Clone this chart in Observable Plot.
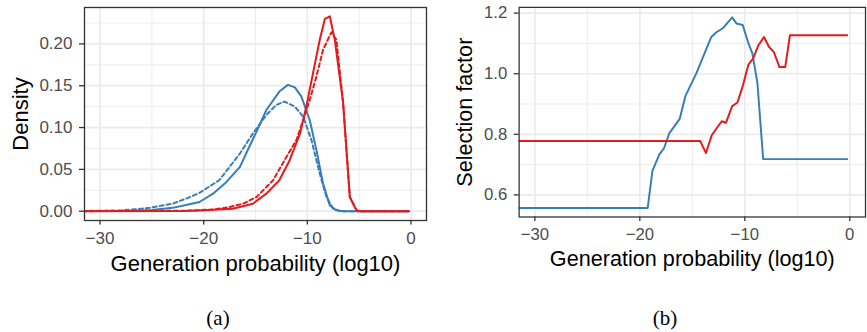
<!DOCTYPE html>
<html>
<head>
<meta charset="utf-8">
<script src="https://cdn.jsdelivr.net/npm/d3@7"></script>
<script src="https://cdn.jsdelivr.net/npm/@observablehq/plot@0.6"></script>
<style>
  html, body { margin: 0; padding: 0; background: #fff; overflow: hidden; }
  #fig { position: relative; width: 867px; height: 332px; overflow: hidden; }
  .panel { position: absolute; top: 0; }
  .cap { position: absolute; font-family: "Liberation Serif", "DejaVu Serif", serif; font-size: 21px; color: #000; transform: translate(-50%, -50%); }
</style>
</head>
<body>
<div id="fig">
  <div id="pa" class="panel" style="left:0px"></div>
  <div id="pb" class="panel" style="left:434px"></div>
  <div class="cap" style="left:218px; top:318px">(a)</div>
  <div class="cap" style="left:665px; top:318px">(b)</div>
</div>
<script>
// ---------- data ----------
const xTicks = [-30, -20, -10, 0];
const xMinor = [-25, -15, -5];
const xLabel = "Generation probability (log10)";

// Panel (a): density curves
const densTicks = [0, 0.05, 0.10, 0.15, 0.20];
const densMinor = [0.025, 0.075, 0.125, 0.175, 0.225];
const blueSolidX = [-33, -27, -25, -23, -21.5, -20.4, -19.1, -17.8, -16.5, -15.6, -14.8, -13.95, -12.7, -11.87, -11.2, -10.57, -9.77, -9.12, -8.48, -7.83, -7.2, -6.5, -0.2];
const blueSolidY = [0, 0.0005, 0.0015, 0.004, 0.008, 0.011, 0.021, 0.035, 0.053, 0.077, 0.098, 0.121, 0.143, 0.151, 0.148, 0.137, 0.109, 0.073, 0.033, 0.007, 0.001, 0, 0];
const blueDashX = [-33, -28, -26, -25.2, -23, -21.5, -20.4, -18.5, -16.5, -15.25, -13.95, -13, -12.2, -11.2, -10.4, -9.6, -8.8, -8.15, -7.5, -6.8, -0.2];
const blueDashY = [0, 0.001, 0.003, 0.004, 0.009, 0.016, 0.022, 0.037, 0.069, 0.093, 0.115, 0.127, 0.131, 0.125, 0.113, 0.085, 0.045, 0.017, 0.003, 0, 0];
const redSolidX = [-33, -22, -20.4, -17.2, -15.25, -13.95, -12.7, -11.7, -10.7, -10.1, -9.45, -8.8, -8.3, -7.83, -7.35, -6.55, -5.9, -5.25, -4.8, -0.2];
const redSolidY = [0, 0.0003, 0.001, 0.003, 0.009, 0.021, 0.037, 0.061, 0.093, 0.125, 0.165, 0.205, 0.230, 0.233, 0.205, 0.13, 0.017, 0.001, 0, 0];
const redDashX = [-33, -22, -19, -17.5, -16.2, -14.9, -13.3, -12.2, -11.05, -10.4, -9.77, -9.12, -8.48, -7.67, -7.2, -6.55, -5.9, -5.25, -4.8, -0.2];
const redDashY = [0, 0.0005, 0.002, 0.005, 0.009, 0.017, 0.037, 0.061, 0.085, 0.109, 0.133, 0.161, 0.193, 0.214, 0.205, 0.13, 0.017, 0.001, 0, 0];

// Panel (b): selection factor
const selTicks = [0.6, 0.8, 1.0, 1.2];
const selMinor = [0.7, 0.9, 1.1];
const selBlueX = [-33, -19.25, -18.8, -18.15, -17.7, -17.2, -16.2, -15.65, -14.6, -13.2, -12.7, -12.1, -11.2, -10.8, -10.2, -9.65, -9.28, -8.8, -8.25, -0.25];
const selBlueY = [0.557, 0.557, 0.679, 0.733, 0.754, 0.803, 0.851, 0.927, 1.003, 1.121, 1.137, 1.150, 1.186, 1.166, 1.161, 1.100, 1.067, 0.970, 0.718, 0.718];
const selRedX = [-33, -14.25, -13.7, -13.15, -12.7, -12.2, -11.8, -11.2, -10.7, -10.2, -9.67, -9.2, -8.7, -8.18, -7.7, -7.23, -6.7, -6.15, -5.7, -0.25];
const selRedY = [0.778, 0.778, 0.738, 0.797, 0.819, 0.843, 0.838, 0.893, 0.905, 0.959, 1.029, 1.051, 1.094, 1.121, 1.089, 1.071, 1.022, 1.022, 1.127, 1.127];

const BLUE = "#377EB8", RED = "#E41A1C";
const zip = (xs, ys) => xs.map((x, i) => ({x, y: ys[i]}));

function panel({width, marginLeft, marginRight, yDomain, yTicks, yMinorTicks, yFmt, yLabel, yLabelDx, series}) {
  return Plot.plot({
    width, height: 285,
    marginLeft, marginRight, marginTop: 7, marginBottom: 65,
    style: {fontFamily: "'Liberation Sans', Arial, Helvetica, sans-serif", background: "#fff", overflow: "visible"},
    x: {domain: [-31.5, 1.5]},
    y: {domain: yDomain},
    marks: [
      Plot.ruleX(xMinor, {stroke: "#EBEBEB", strokeWidth: 0.9}),
      Plot.ruleY(yMinorTicks, {stroke: "#EBEBEB", strokeWidth: 0.9}),
      Plot.ruleX(xTicks, {stroke: "#EBEBEB", strokeWidth: 1.7}),
      Plot.ruleY(yTicks, {stroke: "#EBEBEB", strokeWidth: 1.7}),
      ...series.map(s => Plot.line(zip(s.x, s.y), {x: "x", y: "y", stroke: s.color, strokeWidth: 2, strokeDasharray: s.dash, clip: true})),
      Plot.frame({stroke: "#333", strokeWidth: 1.3}),
      Plot.axisX(xTicks, {tickFormat: d3.format("d"), tickSize: 4.5, tickPadding: 7, fontSize: 17, fill: "#4D4D4D", stroke: "#333", strokeWidth: 1.3, label: null}),
      Plot.axisY(yTicks, {tickFormat: d3.format(yFmt), tickSize: 5, tickPadding: 7, fontSize: 17, fill: "#4D4D4D", stroke: "#333", strokeWidth: 1.3, label: null}),
      Plot.text([xLabel], {frameAnchor: "bottom", textAnchor: "middle", lineAnchor: "middle", dy: 43, fontSize: 22, fill: "#000"}),
      Plot.text([yLabel], {frameAnchor: "left", textAnchor: "middle", lineAnchor: "middle", dx: yLabelDx, rotate: -90, fontSize: 22, fill: "#000"})
    ]
  });
}

document.getElementById("pa").append(panel({
  width: 430, marginLeft: 84, marginRight: 4,
  yDomain: [-0.0111, 0.2435], yTicks: densTicks, yMinorTicks: densMinor, yFmt: ".2f",
  yLabel: "Density", yLabelDx: -64,
  series: [
    {x: blueDashX, y: blueDashY, color: BLUE, dash: "4,3"},
    {x: blueSolidX, y: blueSolidY, color: BLUE, dash: null},
    {x: redDashX, y: redDashY, color: RED, dash: "4,3"},
    {x: redSolidX, y: redSolidY, color: RED, dash: null}
  ]
}));

document.getElementById("pb").append(panel({
  width: 440, marginLeft: 86, marginRight: 2,
  yDomain: [0.527, 1.219], yTicks: selTicks, yMinorTicks: selMinor, yFmt: ".1f",
  yLabel: "Selection factor", yLabelDx: -55,
  series: [
    {x: selBlueX, y: selBlueY, color: BLUE, dash: null},
    {x: selRedX, y: selRedY, color: RED, dash: null}
  ]
}));
</script>
</body>
</html>
